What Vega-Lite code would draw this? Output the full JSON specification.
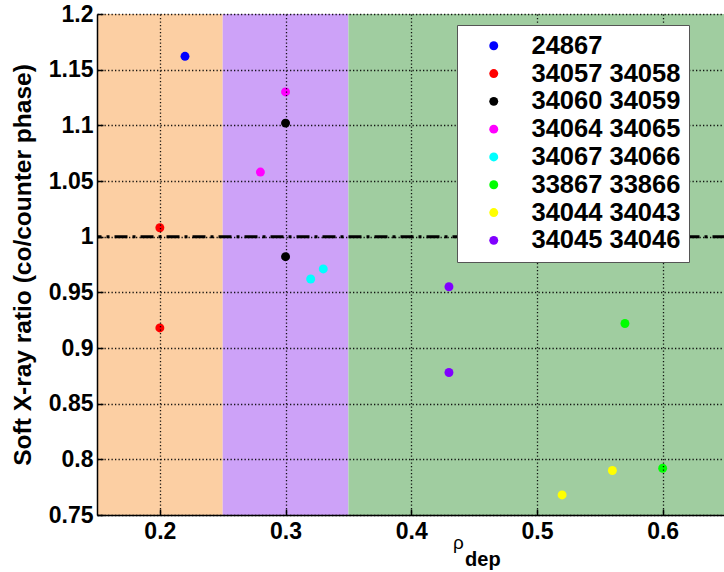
{
  "$schema": "https://vega.github.io/schema/vega-lite/v6.json",
  "autosize": "none",
  "width": 628.5,
  "height": 501,
  "padding": {"left": 97, "top": 14, "right": 0, "bottom": 57},
  "background": "white",
  "config": {
    "view": {"stroke": null},
    "font": "Liberation Sans"
  },
  "datasets": {
    "bands": [
      {"start": 0.15, "end": 0.25, "regime": "low"},
      {"start": 0.25, "end": 0.35, "regime": "mid"},
      {"start": 0.35, "end": 0.65, "regime": "high"}
    ],
    "points": [
      {"rho": 0.22, "ratio": 1.162, "shots": "24867"},
      {"rho": 0.2, "ratio": 1.008, "shots": "34057 34058"},
      {"rho": 0.2, "ratio": 0.918, "shots": "34057 34058"},
      {"rho": 0.3, "ratio": 1.102, "shots": "34060 34059"},
      {"rho": 0.3, "ratio": 0.982, "shots": "34060 34059"},
      {"rho": 0.3, "ratio": 1.130, "shots": "34064 34065"},
      {"rho": 0.28, "ratio": 1.058, "shots": "34064 34065"},
      {"rho": 0.32, "ratio": 0.962, "shots": "34067 34066"},
      {"rho": 0.33, "ratio": 0.971, "shots": "34067 34066"},
      {"rho": 0.57, "ratio": 0.922, "shots": "33867 33866"},
      {"rho": 0.6, "ratio": 0.792, "shots": "33867 33866"},
      {"rho": 0.52, "ratio": 0.768, "shots": "34044 34043"},
      {"rho": 0.56, "ratio": 0.790, "shots": "34044 34043"},
      {"rho": 0.43, "ratio": 0.955, "shots": "34045 34046"},
      {"rho": 0.43, "ratio": 0.878, "shots": "34045 34046"}
    ],
    "refline": [{"ratio": 1}],
    "sub": [{"label": "dep", "rho": 0.4428, "ratio": 0.7042}]
  },
  "layer": [
    {
      "data": {"name": "bands"},
      "mark": {"type": "rect"},
      "encoding": {
        "x": {
          "field": "start",
          "type": "quantitative",
          "scale": {"domain": [0.15, 0.65], "nice": false, "zero": false},
          "axis": {
            "orient": "bottom",
            "values": [0.2, 0.3, 0.4, 0.5, 0.6],
            "format": ".1f",
            "title": "ρ",
            "titleFont": "Liberation Sans",
            "titleFontWeight": "normal",
            "titleFontSize": 19,
            "titleColor": "black",
            "titleX": 361,
            "titleY": 33,
            "titleAlign": "center",
            "titleBaseline": "alphabetic",
            "labelFont": "Liberation Sans",
            "labelFontWeight": "bold",
            "labelFontSize": 23,
            "labelColor": "black",
            "labelPadding": 11,
            "labelFlush": false,
            "tickSize": -6,
            "tickColor": "black",
            "tickWidth": 1.5,
            "domainColor": "black",
            "domainWidth": 1.5,
            "grid": true,
            "gridColor": "black",
            "gridOpacity": 0.9,
            "gridDash": [1.3, 2.2],
            "gridWidth": 1.3,
            "zindex": 1
          }
        },
        "x2": {"field": "end"},
        "fill": {
          "field": "regime",
          "type": "nominal",
          "scale": {"domain": ["low", "mid", "high"], "range": ["#fccfa3", "#cda2f8", "#a0cda0"]},
          "legend": null
        }
      }
    },
    {
      "data": {"name": "refline"},
      "mark": {"type": "rule", "strokeDash": [13, 5, 3, 5], "strokeWidth": 3, "color": "black"},
      "encoding": {"y": {"field": "ratio", "type": "quantitative"}}
    },
    {
      "data": {"name": "points"},
      "mark": {"type": "circle", "size": 80, "opacity": 1},
      "encoding": {
        "x": {"field": "rho", "type": "quantitative"},
        "y": {
          "field": "ratio",
          "type": "quantitative",
          "scale": {"domain": [0.75, 1.2], "nice": false, "zero": false},
          "axis": {
            "values": [0.75, 0.8, 0.85, 0.9, 0.95, 1, 1.05, 1.1, 1.15, 1.2],
            "format": ".2~f",
            "title": "Soft X-ray ratio (co/counter phase)",
            "titleFont": "Liberation Sans",
            "titleFontWeight": "bold",
            "titleFontSize": 24.5,
            "titleColor": "black",
            "titlePadding": 13,
            "labelFont": "Liberation Sans",
            "labelFontWeight": "bold",
            "labelFontSize": 23,
            "labelColor": "black",
            "labelPadding": 10,
            "labelFlush": false,
            "tickSize": -6,
            "tickColor": "black",
            "tickWidth": 1.5,
            "domainColor": "black",
            "domainWidth": 1.5,
            "grid": true,
            "gridColor": "black",
            "gridOpacity": 0.9,
            "gridDash": [1.3, 2.2],
            "gridWidth": 1.3,
            "zindex": 1
          }
        },
        "color": {
          "field": "shots",
          "type": "nominal",
          "scale": {
            "domain": ["24867", "34057 34058", "34060 34059", "34064 34065", "34067 34066", "33867 33866", "34044 34043", "34045 34046"],
            "range": ["#0000ff", "#ff0000", "#000000", "#ff00ff", "#00ffff", "#00ff00", "#ffff00", "#8000ff"]
          },
          "legend": {
            "orient": "none",
            "legendX": 360,
            "legendY": 11,
            "title": null,
            "fillColor": "white",
            "strokeColor": "#555555",
            "padding": 8,
            "symbolOffset": 16,
            "symbolType": "circle",
            "symbolSize": 80,
            "symbolStrokeWidth": 0,
            "labelOffset": 25,
            "labelFont": "Liberation Sans",
            "labelFontWeight": "bold",
            "labelFontSize": 25.5,
            "labelColor": "black",
            "labelLimit": 400,
            "rowPadding": 0.8,
            "zindex": 2
          }
        }
      }
    },
    {
      "data": {"name": "sub"},
      "mark": {"type": "text", "align": "left", "baseline": "alphabetic", "font": "Liberation Sans", "fontWeight": "bold", "fontSize": 20, "color": "black"},
      "encoding": {
        "text": {"field": "label"},
        "x": {"field": "rho", "type": "quantitative"},
        "y": {"field": "ratio", "type": "quantitative"}
      }
    }
  ]
}
